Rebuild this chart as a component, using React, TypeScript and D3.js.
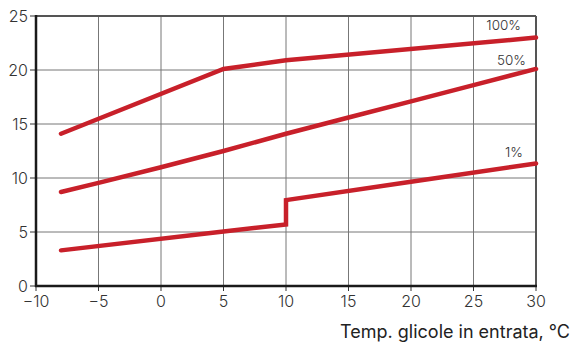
import React from "react";
import * as d3 from "d3";

const xTicks = [-10, -5, 0, 5, 10, 15, 20, 25, 30];
const yTicks = [0, 5, 10, 15, 20, 25];

const s100x = [-8, 5, 10, 30];
const s100y = [14.1, 20.1, 20.9, 23.0];
const s50x = [-8, -5, 0, 5, 10, 15, 20, 25, 30];
const s50y = [8.7, 9.55, 11.0, 12.5, 14.1, 15.6, 17.1, 18.6, 20.1];
const s1x = [-8, 5, 10, 10, 20, 30];
const s1y = [3.3, 5.05, 5.7, 7.95, 9.65, 11.35];

const seriesLabels = ["100%", "50%", "1%"];
const xTitle = "Temp. glicole in entrata, °C";

export default function App() {
  const W = 574, H = 343;
  const x = d3.scaleLinear().domain([-10, 30]).range([36, 536]);
  const y = d3.scaleLinear().domain([0, 25]).range([286, 16]);
  const line = d3
    .line<[number, number]>()
    .x((d) => x(d[0]))
    .y((d) => y(d[1]));
  const series = [
    { xs: s100x, ys: s100y, label: seriesLabels[0], lx: 521, ly: 30 },
    { xs: s50x, ys: s50y, label: seriesLabels[1], lx: 526, ly: 65 },
    { xs: s1x, ys: s1y, label: seriesLabels[2], lx: 523, ly: 157 },
  ];
  const font = "Inter, 'DejaVu Sans', sans-serif";
  return (
    <svg
      width={W}
      height={H}
      style={{ position: "absolute", left: 0, top: 0 }}
      fontFamily={font}
    >
      <rect width={W} height={H} fill="#fff" />
      {xTicks.map((t) => (
        <line key={"gx" + t} x1={x(t)} x2={x(t)} y1={y(25)} y2={y(0)} stroke="#777" strokeWidth={1} />
      ))}
      {yTicks.map((t) => (
        <line key={"gy" + t} x1={x(-10)} x2={x(30)} y1={y(t)} y2={y(t)} stroke="#777" strokeWidth={1} />
      ))}
      <line x1={x(-10)} x2={x(30)} y1={y(25)} y2={y(25)} stroke="#555" strokeWidth={2} />
      <line x1={x(30)} x2={x(30)} y1={y(25)} y2={y(0)} stroke="#555" strokeWidth={2} />
      {yTicks.map((t) => (
        <line key={"ty" + t} x1={x(-10) - 6} x2={x(-10)} y1={y(t)} y2={y(t)} stroke="#333" strokeWidth={1} />
      ))}
      {xTicks.map((t) => (
        <line key={"tx" + t} x1={x(t)} x2={x(t)} y1={y(0)} y2={y(0) + 5} stroke="#333" strokeWidth={1} />
      ))}
      <line x1={x(-10)} x2={x(-10)} y1={y(25) - 1} y2={y(0) + 1} stroke="#1a1a1a" strokeWidth={2.5} />
      <line x1={x(-10) - 1} x2={x(30) + 1} y1={y(0)} y2={y(0)} stroke="#1a1a1a" strokeWidth={2.5} />
      {series.map((s, i) => (
        <path
          key={"s" + i}
          d={line(s.xs.map((v, j) => [v, s.ys[j]] as [number, number])) || ""}
          fill="none"
          stroke="#c8202a"
          strokeWidth={4.5}
          strokeLinecap="round"
          strokeLinejoin="miter"
        />
      ))}
      {series.map((s, i) => (
        <text key={"l" + i} x={s.lx} y={s.ly} textAnchor="end" fontSize={13.5} fontWeight={300} fill="#333">
          {s.label}
        </text>
      ))}
      {yTicks.map((t) => (
        <text key={"ly" + t} x={28} y={y(t) + 5.5} textAnchor="end" fontSize={16} fontWeight={300} fill="#333">
          {t}
        </text>
      ))}
      {xTicks.map((t) => (
        <text key={"lx" + t} x={x(t)} y={307} textAnchor="middle" fontSize={16} fontWeight={300} fill="#333">
          {t < 0 ? "\u2212" + Math.abs(t) : t}
        </text>
      ))}
      <text x={570} y={338} textAnchor="end" fontSize={18} fill="#222">
        {xTitle}
      </text>
    </svg>
  );
}
